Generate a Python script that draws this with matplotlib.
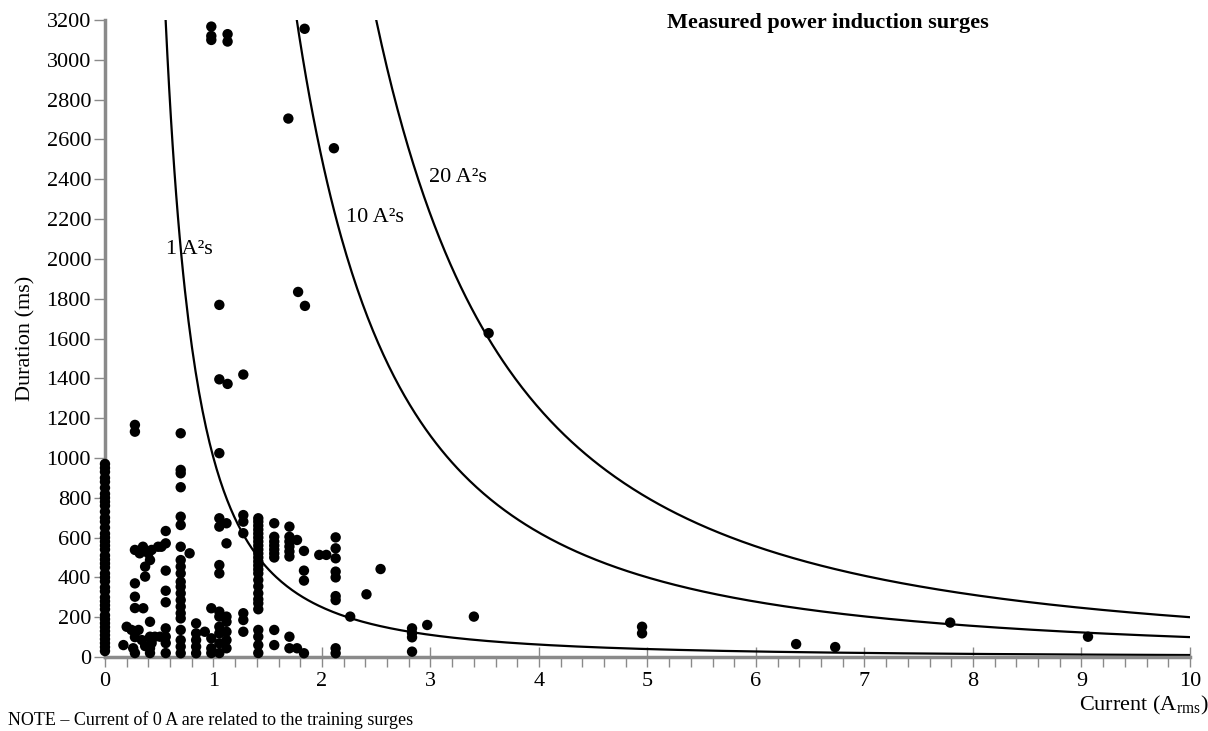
import numpy as np
import matplotlib
matplotlib.use("Agg")
import matplotlib.pyplot as plt
from matplotlib.ticker import MultipleLocator

plt.rcParams['font.family'] = ['Liberation Serif', 'DejaVu Serif']
plt.rcParams['mathtext.fontset'] = 'custom'
plt.rcParams['mathtext.rm'] = 'Liberation Serif'

# measured surges: current (A rms) and duration (ms)
col0_ms = [970, 950, 930, 900, 880, 850, 820, 800, 780, 760, 730, 700, 680, 650,
           620, 600, 580, 560, 540, 510, 490, 470, 450, 420, 400, 380, 350, 330,
           300, 280, 260, 240, 210, 190, 170, 150, 130, 110, 90, 70, 50, 30]
col069_ms = [1124, 940, 923, 853, 705, 663, 554, 487, 454, 420, 378, 353, 320,
             286, 253, 220, 194, 136, 85, 52, 19]
col141_ms = [697, 680, 660, 640, 620, 600, 580, 560, 540, 520, 500, 480, 460,
             440, 420, 387, 355, 320, 290, 270, 240, 136, 102, 60, 20]

other_a = [0.17, 0.20, 0.245, 0.26, 0.276, 0.276, 0.276, 0.276, 0.276, 0.276,
           0.276, 0.276, 0.31,
           0.32, 0.35, 0.37, 0.37, 0.40, 0.415, 0.43, 0.353, 0.415, 0.34, 0.415,
           0.415, 0.415, 0.43, 0.37,
           0.49, 0.52, 0.56, 0.56, 0.56, 0.56, 0.56, 0.56, 0.56, 0.56, 0.56,
           0.507, 0.46, 0.78,
           0.84, 0.84, 0.84, 0.84, 0.84,
           0.92, 0.98, 0.98, 0.98, 0.98,
           1.054, 1.054, 1.054, 1.054, 1.054, 1.054, 1.054, 1.054, 1.054,
           1.054, 1.054, 1.054, 1.054,
           1.12, 1.12, 1.12, 1.12, 1.12, 1.12, 1.12, 1.13,
           1.275, 1.275, 1.275, 1.275, 1.275, 1.275, 1.275,
           1.56, 1.56, 1.56, 1.56, 1.56, 1.56, 1.56, 1.56, 1.56,
           1.70, 1.70, 1.70, 1.70, 1.70, 1.70, 1.70, 1.70, 1.77, 1.77, 1.78,
           1.834, 1.834, 1.834, 1.834, 1.843,
           1.975, 2.04,
           2.126, 2.126, 2.126, 2.126, 2.126, 2.126, 2.126, 2.126, 2.126,
           2.26, 2.41, 2.54, 2.83, 2.83, 2.83, 2.83, 2.97, 3.40, 3.536,
           4.95, 4.95, 6.37, 6.73, 7.79, 9.06,
           0.98, 0.98, 0.98, 1.13, 1.13, 1.84, 1.69, 2.11]
other_ms = [60, 152, 136, 44, 20, 100, 246, 303, 370, 538, 1132, 1166, 136,
            521, 554, 454, 404, 521, 487, 538, 245, 177, 85, 102,
            44, 20, 70, 55,
            554, 554, 633, 571, 434, 333, 275, 144, 102, 70, 20,
            102, 102, 521,
            169, 119, 85, 52, 19,
            127, 245, 94, 44, 20,
            1769, 1395, 1024, 697, 655, 462, 420, 228, 203, 152, 119, 69, 20,
            672, 571, 203, 177, 127, 85, 44, 1372,
            1419, 713, 680, 622, 220, 186, 127,
            672, 604, 580, 560, 540, 520, 500, 136, 60,
            655, 604, 580, 555, 530, 505, 102, 44, 588, 44, 1834,
            533, 434, 384, 19, 1764,
            513, 513,
            601, 546, 496, 429, 400, 306, 286, 44, 19,
            203, 315, 442, 144, 120, 99, 27, 161, 203, 1627,
            152, 119, 65, 50, 173, 102,
            3167, 3120, 3100, 3129, 3092, 3156, 2705, 2556]

current = np.concatenate([np.zeros(len(col0_ms)), np.full(len(col069_ms), 0.698),
                          np.full(len(col141_ms), 1.413), other_a])
duration = np.concatenate([col0_ms, col069_ms, col141_ms, other_ms])

# constant I2t reference lines (A^2 s)
i2t_levels = [1, 10, 20]
i2t_labels = ['1 A²s', '10 A²s', '20 A²s']
label_pos = [(0.78, 2045), (2.49, 2206), (3.25, 2407)]

fig = plt.figure(figsize=(12.08, 7.31), dpi=100)
ax = fig.add_axes([0.0869, 0.1012, 0.8982, 0.8714])

grid = np.linspace(0.3, 10, 600)
for lvl, lab, pos in zip(i2t_levels, i2t_labels, label_pos):
    ax.plot(grid, lvl * 1000 / grid**2, color='black', lw=1.6, zorder=2)
    ax.text(pos[0], pos[1], lab, fontsize=16, ha='center', va='center')

ax.scatter(current, duration, s=56, color='black', edgecolors='none',
           zorder=3, clip_on=False)

ax.set_xlim(0, 10)
ax.set_ylim(0, 3200)
ax.xaxis.set_major_locator(MultipleLocator(1))
ax.xaxis.set_minor_locator(MultipleLocator(0.2))
ax.yaxis.set_major_locator(MultipleLocator(200))

for side in ['top', 'right']:
    ax.spines[side].set_visible(False)
for side in ['left', 'bottom']:
    ax.spines[side].set_color('#8a8a8a')
    ax.spines[side].set_linewidth(2.5)

ax.tick_params(axis='x', which='major', direction='inout', length=14, width=1,
               color='#8a8a8a', labelsize=16, pad=4)
ax.tick_params(axis='x', which='minor', direction='out', length=7, width=1,
               color='#8a8a8a')
ax.tick_params(axis='y', which='major', direction='out', length=8, width=1,
               color='#8a8a8a', labelsize=16, pad=2)

ax.set_ylabel('Duration (ms)', fontsize=16, labelpad=8)
ax.set_xlabel(r'Current (A$_{\mathrm{rms}}$)', fontsize=16)
ax.xaxis.set_label_coords(1.017, -0.058)
ax.xaxis.label.set_ha('right')

fig.text(0.685, 0.982, 'Measured power induction surges', fontsize=16,
         fontweight='bold', ha='center', va='top')
fig.text(0.007, 0.003, 'NOTE – Current of 0 A are related to the training surges',
         fontsize=13, ha='left', va='bottom')

fig.savefig('out.png', dpi=100)
